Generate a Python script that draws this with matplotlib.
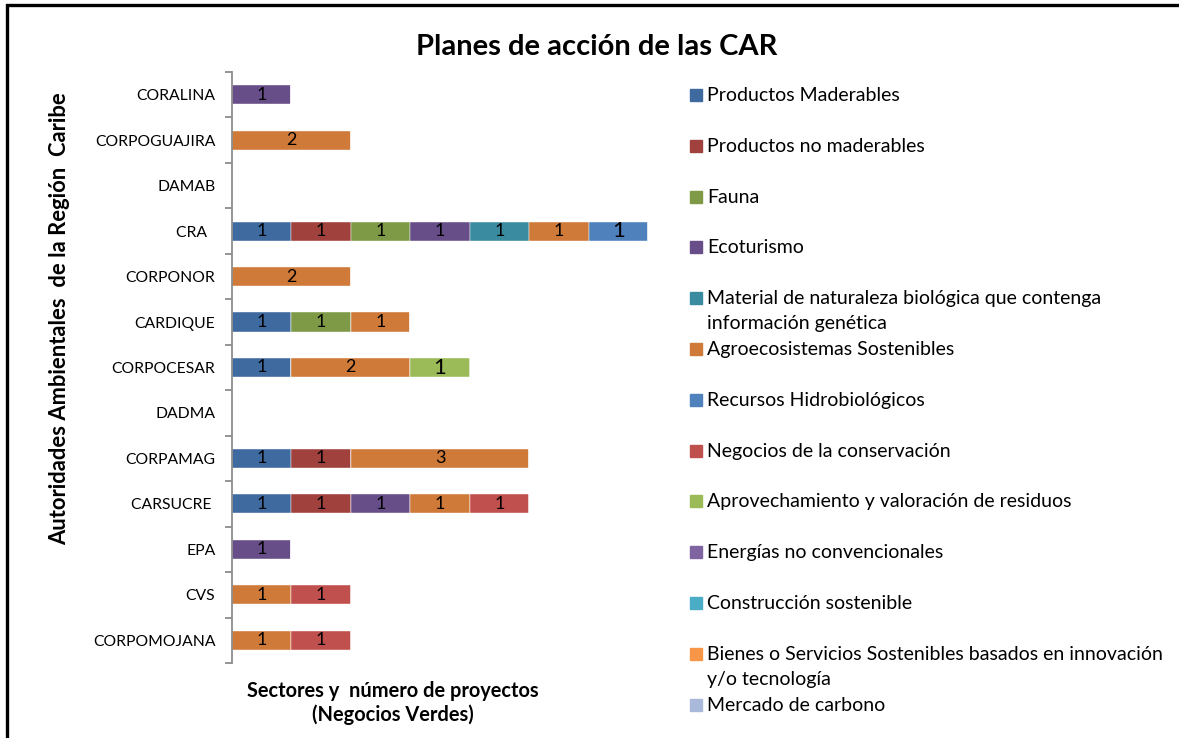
import numpy as np
import matplotlib.pyplot as plt
from matplotlib.patches import Rectangle

plt.rcParams['font.family'] = ['Lato', 'DejaVu Sans']

# autoridades (de arriba hacia abajo)
car = ['CORALINA', 'CORPOGUAJIRA', 'DAMAB', 'CRA  ', 'CORPONOR', 'CARDIQUE',
       'CORPOCESAR', 'DADMA', 'CORPAMAG', 'CARSUCRE ', 'EPA', 'CVS', 'CORPOMOJANA']

sectores = ['Productos Maderables', 'Productos no maderables', 'Fauna', 'Ecoturismo',
            'Material de naturaleza biológica que contenga\ninformación genética',
            'Agroecosistemas Sostenibles', 'Recursos Hidrobiológicos',
            'Negocios de la conservación', 'Aprovechamiento y valoración de residuos',
            'Energías no convencionales', 'Construcción sostenible',
            'Bienes o Servicios Sostenibles basados en innovación\ny/o tecnología',
            'Mercado de carbono']

colores = ['#3E6A9F', '#A0413E', '#7E9A47', '#674E88', '#3A8BA0', '#CF7A38',
           '#4F81BD', '#C0504D', '#9BBB59', '#8064A2', '#4BACC6', '#F79646', '#A9B9D9']

# proyectos por sector (filas) y autoridad (columnas)
p_maderables    = [0, 0, 0, 1, 0, 1, 1, 0, 1, 1, 0, 0, 0]
p_no_maderables = [0, 0, 0, 1, 0, 0, 0, 0, 1, 1, 0, 0, 0]
fauna           = [0, 0, 0, 1, 0, 1, 0, 0, 0, 0, 0, 0, 0]
ecoturismo      = [1, 0, 0, 1, 0, 0, 0, 0, 0, 1, 1, 0, 0]
material_bio    = [0, 0, 0, 1, 0, 0, 0, 0, 0, 0, 0, 0, 0]
agroecosistemas = [0, 2, 0, 1, 2, 1, 2, 0, 3, 1, 0, 1, 1]
hidrobiologicos = [0, 0, 0, 1, 0, 0, 0, 0, 0, 0, 0, 0, 0]
conservacion    = [0, 0, 0, 0, 0, 0, 0, 0, 0, 1, 0, 1, 1]
residuos        = [0, 0, 0, 0, 0, 0, 1, 0, 0, 0, 0, 0, 0]
energias        = [0] * 13
construccion    = [0] * 13
bienes          = [0] * 13
carbono         = [0] * 13

datos = [p_maderables, p_no_maderables, fauna, ecoturismo, material_bio, agroecosistemas,
         hidrobiologicos, conservacion, residuos, energias, construccion, bienes, carbono]

W, H = 1179, 738
fig = plt.figure(figsize=(W / 100, H / 100), dpi=100)

# marco negro
fig.patches.append(Rectangle((7 / W, -0.05), 1.2, 1 - 5 / H + 0.05, transform=fig.transFigure,
                             fill=False, edgecolor='black', linewidth=2.4))

ax = fig.add_axes([232 / W, 1 - 663 / H, 416 / W, 591 / H])
y = np.arange(len(car))
izq = np.zeros(len(car))
for i, serie in enumerate(datos):
    vals = np.array(serie, dtype=float)
    ax.barh(y, vals, left=izq, height=0.42, color=colores[i], edgecolor='white', linewidth=0.3)
    for j, v in enumerate(vals):
        if v > 0:
            ax.text(izq[j] + v / 2, y[j], f'{int(v)}', ha='center', va='center',
                    fontsize=16 if i in (6, 8) else 13, color='black')
    izq += vals

ax.set_xlim(0, 7)
ax.set_ylim(len(car) - 0.5, -0.5)
for s in ['top', 'right', 'bottom']:
    ax.spines[s].set_visible(False)
ax.spines['left'].set_color('#8c8c8c')
ax.spines['left'].set_linewidth(1.3)
ax.set_xticks([])
ax.set_yticks(y)
ax.set_yticklabels(car, fontsize=11.3)
ax.tick_params(axis='y', which='major', length=0, pad=12)
ax.set_yticks(np.arange(-0.5, len(car), 1), minor=True)
ax.tick_params(axis='y', which='minor', length=5, color='#8c8c8c', width=1.3)

fig.text(597 / W, 1 - 47 / H, 'Planes de acción de las CAR', ha='center', va='center',
         fontsize=21, fontweight='bold')
fig.text(60 / W, 1 - 319 / H, 'Autoridades Ambientales  de la Región  Caribe', rotation=90,
         ha='center', va='center', fontsize=15.8, fontweight='bold')
fig.text(393 / W, 1 - 703 / H, 'Sectores y  número de proyectos\n(Negocios Verdes)',
         ha='center', va='center', fontsize=14.4, fontweight='bold', linespacing=1.2)

# leyenda
for i, nombre in enumerate(sectores):
    yc = 95 + 50.8 * i
    fig.patches.append(Rectangle((690 / W, 1 - (yc + 6) / H), 12 / W, 12 / H,
                                 transform=fig.transFigure, color=colores[i]))
    for k, linea in enumerate(nombre.split('\n')):
        fig.text(707 / W, 1 - (yc + 6 + 25 * k) / H, linea, ha='left', va='baseline',
                 fontsize=14)

fig.savefig('out.png', dpi=100)
